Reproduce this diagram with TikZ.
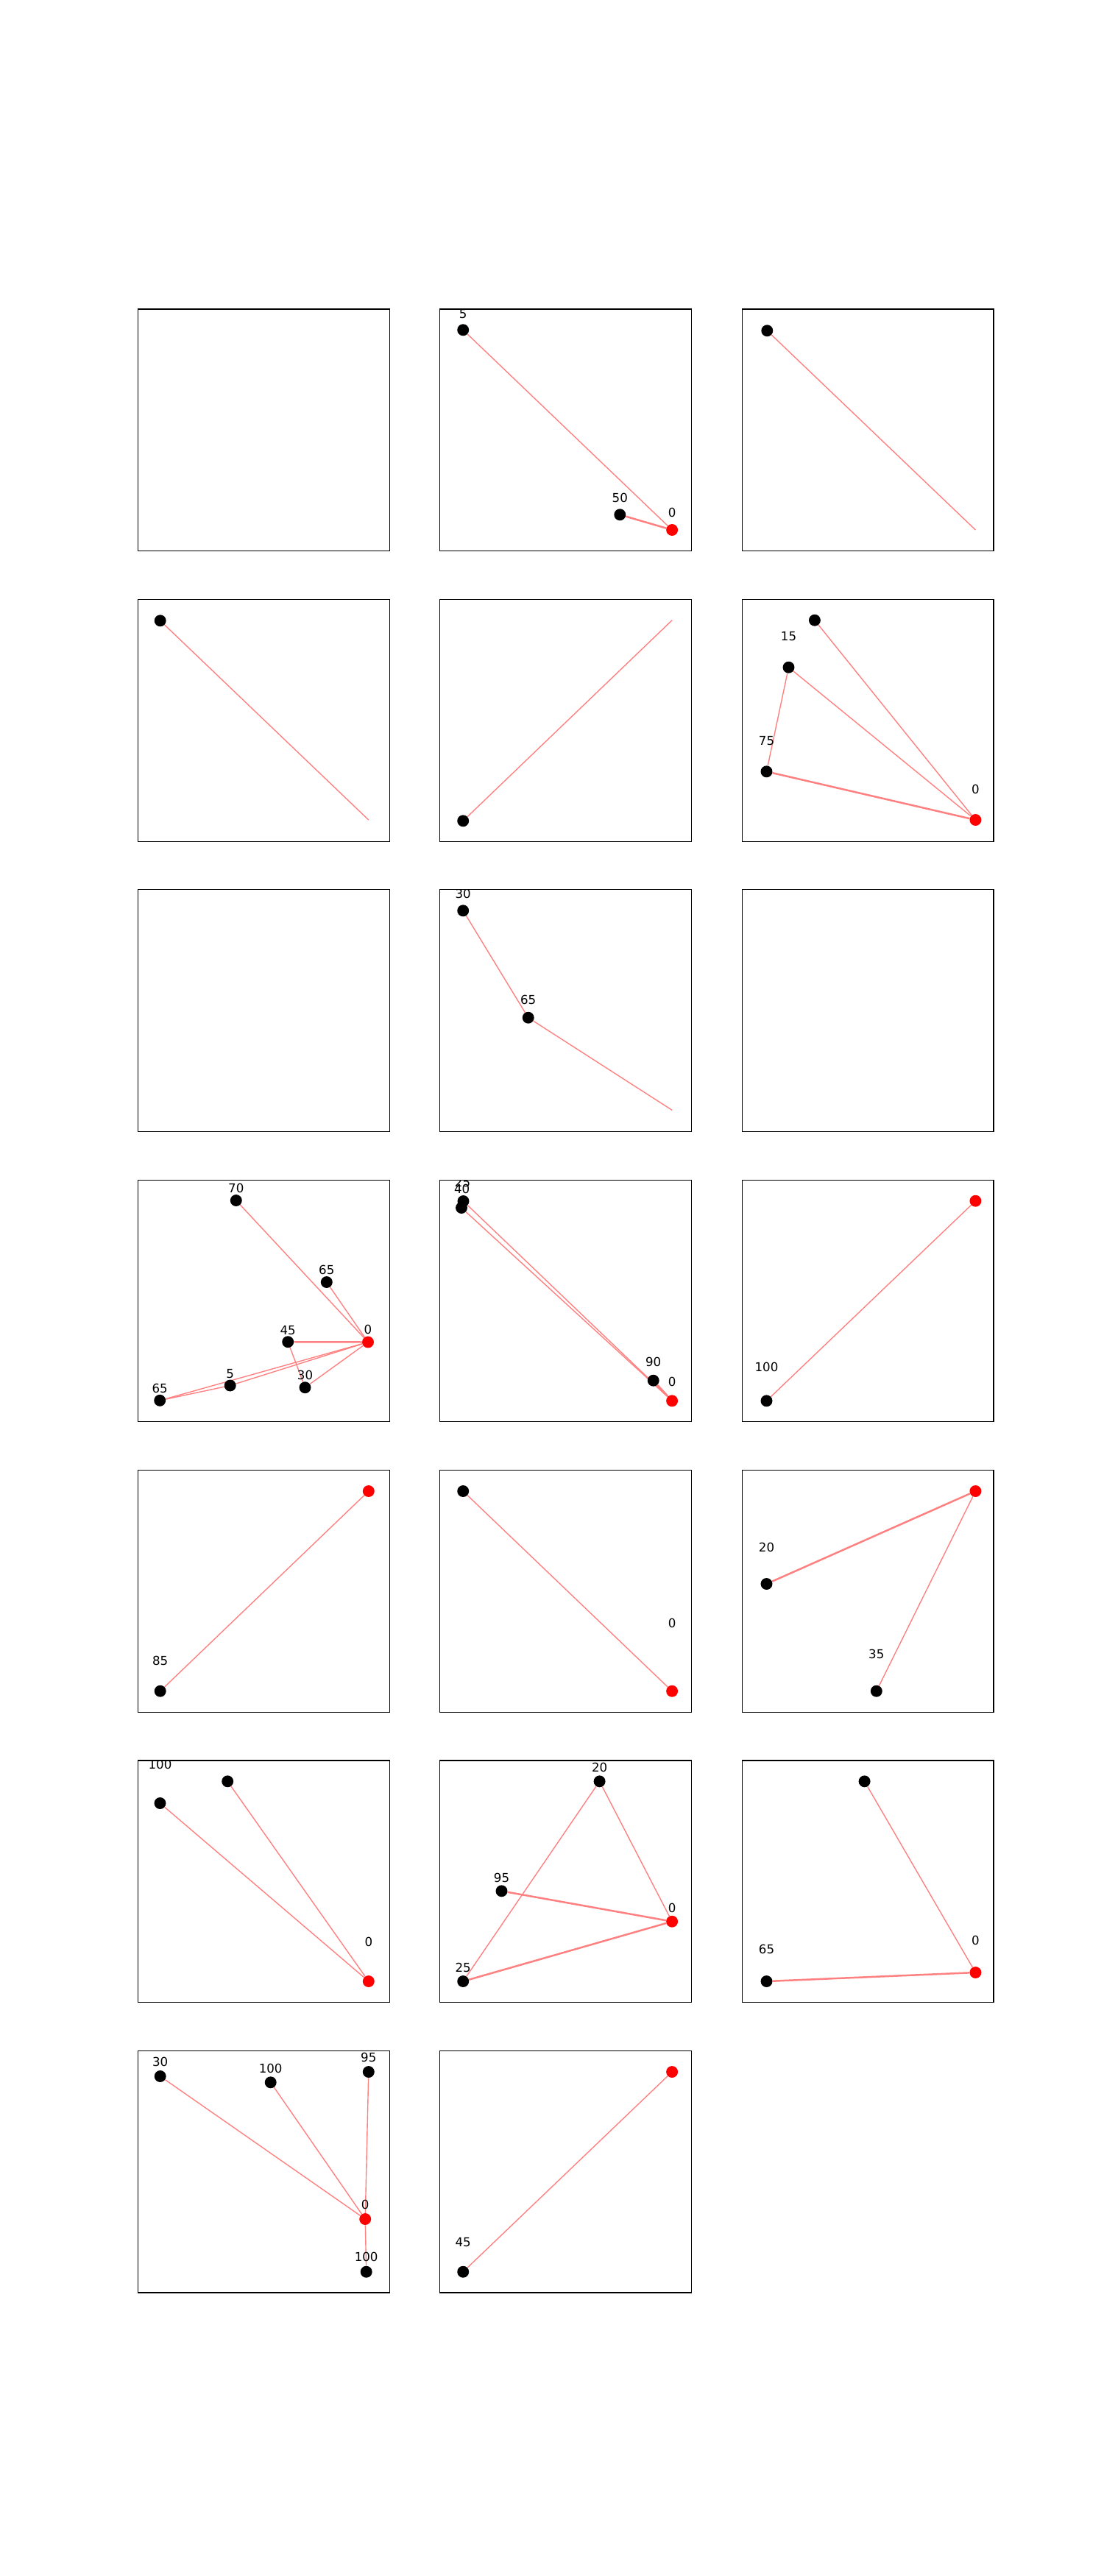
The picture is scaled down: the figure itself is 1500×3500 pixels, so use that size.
\documentclass[tikz,border=0pt]{standalone}
\usepackage{fontspec}
\setmainfont{DejaVu Sans}
\usepackage{xcolor}
\usepackage{tikz}
\usetikzlibrary{backgrounds}

\begin{document}
\begin{tikzpicture}[
  x=0.7227pt, y=-0.7227pt,
  frame/.style={draw=black, line width=0.8pt},
  vtx/.style={circle, fill=black, inner sep=0pt, minimum size=11.5pt},
  root/.style={vtx, fill=red},
  lbl/.style={inner sep=0pt, font=\fontsize{12}{14}\selectfont},
  edge/.style={draw=red!50, line width=1pt},
  heavy/.style={edge, line width=1.8pt}
]
\useasboundingbox (0,0) rectangle (1500,3500);

% axes frames, 7 rows x 3 columns (last row has two)
\foreach \r in {0,...,6} {
  \foreach \c in {0,1,2} {
    \ifnum\numexpr\r*3+\c\relax<20
      \draw[frame] ({187.5+\c*410.3},{420+\r*394.39}) rectangle ++(341.9,328.66);
    \fi
  }
}

% row 1
\node[vtx] (aFive) at (629.2,448.3) {};
\node[vtx] (aFifty) at (842.3,699.3) {};
\node[root] (aRoot) at (913.1,720) {};
\begin{scope}
  \clip (597.8,420) rectangle ++(341.9,328.66);
  \node[lbl] (aFiveL) at (629.2,427) {5};
\end{scope}
\node[lbl] (aFiftyL) at (842.3,676.7) {50};
\node[lbl] (aRootL) at (913.1,696) {0};
\node[vtx] (bTop) at (1042.3,449.3) {};
\coordinate (bEnd) at (1325.4,720);

% row 2
\node[vtx] (cTop) at (217.7,843.3) {};
\coordinate (cEnd) at (500.8,1114);
\node[vtx] (dLow) at (629.2,1115.3) {};
\coordinate (dEnd) at (913.1,842.7);
\node[vtx] (eTop) at (1106.9,842.7) {};
\node[vtx] (eFifteen) at (1071.5,906.7) {};
\node[vtx] (eSeventyFive) at (1041.5,1048.3) {};
\node[root] (eRoot) at (1325.4,1114) {};
\node[lbl] (eFifteenL) at (1071.5,865) {15};
\node[lbl] (eSeventyFiveL) at (1041.5,1007) {75};
\node[lbl] (eRootL) at (1325.4,1072.7) {0};

% row 3
\node[vtx] (fThirty) at (629.2,1237.3) {};
\node[vtx] (fSixtyFive) at (717.7,1382.7) {};
\coordinate (fEnd) at (913.1,1508.3);
\begin{scope}
  \clip (597.8,1208.8) rectangle ++(341.9,328.66);
  \node[lbl] (fThirtyL) at (629.2,1214) {30};
\end{scope}
\node[lbl] (fSixtyFiveL) at (717.7,1358.7) {65};

% row 4
\node[vtx] (gSeventy) at (320.8,1631) {};
\node[vtx] (gSixtyFiveA) at (443.8,1742) {};
\node[vtx] (gFortyFive) at (391.2,1823.2) {};
\node[root] (gRoot) at (500,1823.5) {};
\node[vtx] (gFive) at (312.7,1882.5) {};
\node[vtx] (gThirty) at (414.5,1885.2) {};
\node[vtx] (gSixtyFiveB) at (217.2,1902.8) {};
\node[lbl] (gSeventyL) at (320.8,1614.3) {70};
\node[lbl] (gSixtyFiveAL) at (443.8,1725) {65};
\node[lbl] (gFortyFiveL) at (391.2,1807.3) {45};
\node[lbl] (gRootL) at (500,1806.7) {0};
\node[lbl] (gFiveL) at (312.7,1866.7) {5};
\node[lbl] (gThirtyL) at (414.5,1868.7) {30};
\node[lbl] (gSixtyFiveBL) at (217.2,1886.7) {65};

\node[vtx] (hTopA) at (629.5,1632) {};
\node[vtx] (hTopB) at (627,1641) {};
\node[vtx] (hNinety) at (887.7,1875.7) {};
\node[root] (hRoot) at (913.1,1903.3) {};
\begin{scope}
  \clip (597.8,1603.2) rectangle ++(341.9,328.66);
  \node[lbl] (hTopAL) at (628.5,1606) {25};
  \node[lbl] (hTopBL) at (627.7,1615) {40};
\end{scope}
\node[lbl] (hNinetyL) at (887.7,1850.7) {90};
\node[lbl] (hRootL) at (913.1,1877.7) {0};

\node[root] (iRoot) at (1325.4,1631.7) {};
\node[vtx] (iHundred) at (1041.5,1903.3) {};
\node[lbl] (iHundredL) at (1041.5,1857.7) {100};

% row 5
\node[root] (jRoot) at (500.8,2026) {};
\node[vtx] (jEightyFive) at (217.7,2297.7) {};
\node[lbl] (jEightyFiveL) at (217.7,2256) {85};

\node[vtx] (kTop) at (629.2,2026) {};
\node[root] (kRoot) at (913.1,2297.7) {};
\node[lbl] (kRootL) at (913.1,2205) {0};

\node[root] (lRoot) at (1325.4,2026) {};
\node[vtx] (lTwenty) at (1041.5,2152) {};
\node[vtx] (lThirtyFive) at (1190.8,2297.7) {};
\node[lbl] (lTwentyL) at (1041.5,2102.7) {20};
\node[lbl] (lThirtyFiveL) at (1190.8,2247.7) {35};

% row 6
\node[vtx] (mTop) at (309.2,2420.3) {};
\node[vtx] (mHundred) at (217.5,2450) {};
\node[root] (mRoot) at (500.8,2692) {};
\begin{scope}
  \clip (187.5,2392) rectangle ++(341.9,328.66);
  \node[lbl] (mHundredL) at (217.5,2397) {100};
\end{scope}
\node[lbl] (mRootL) at (500.8,2638.3) {0};

\node[vtx] (nTwenty) at (814.6,2420.3) {};
\node[vtx] (nNinetyFive) at (681.5,2569.3) {};
\node[root] (nRoot) at (913.1,2610.7) {};
\node[vtx] (nTwentyFive) at (629.2,2692) {};
\node[lbl] (nTwentyL) at (814.6,2401.7) {20};
\node[lbl] (nNinetyFiveL) at (681.5,2551) {95};
\node[lbl] (nRootL) at (913.1,2592.3) {0};
\node[lbl] (nTwentyFiveL) at (629.2,2673.3) {25};

\node[vtx] (oTop) at (1174.6,2420.3) {};
\node[root] (oRoot) at (1325.4,2680) {};
\node[vtx] (oSixtyFive) at (1041.5,2692) {};
\node[lbl] (oRootL) at (1325.4,2636.7) {0};
\node[lbl] (oSixtyFiveL) at (1041.5,2648.7) {65};

% row 7
\node[vtx] (pThirty) at (217.7,2821) {};
\node[vtx] (pHundredA) at (367.7,2829.3) {};
\node[vtx] (pNinetyFive) at (500.8,2815) {};
\node[root] (pRoot) at (496.2,3015) {};
\node[vtx] (pHundredB) at (497.7,3086.7) {};
\node[lbl] (pThirtyL) at (217.7,2801.7) {30};
\node[lbl] (pHundredAL) at (367.7,2810) {100};
\node[lbl] (pNinetyFiveL) at (500.8,2795.7) {95};
\node[lbl] (pRootL) at (496.2,2995.7) {0};
\node[lbl] (pHundredBL) at (497.7,3066.7) {100};

\node[root] (qRoot) at (913.1,2815) {};
\node[vtx] (qFortyFive) at (629.2,3086.7) {};
\node[lbl] (qFortyFiveL) at (629.2,3047) {45};

\begin{scope}[on background layer]
\draw[edge] (aFive) -- (aRoot);
\draw[heavy] (aFifty) -- (aRoot);
\draw[edge] (bTop) -- (bEnd);
\draw[edge] (cTop) -- (cEnd);
\draw[edge] (dLow) -- (dEnd);
\draw[edge] (eTop) -- (eRoot);
\draw[edge] (eFifteen) -- (eRoot);
\draw[edge] (eFifteen) -- (eSeventyFive);
\draw[heavy] (eSeventyFive) -- (eRoot);
\draw[edge] (fThirty) -- (fSixtyFive);
\draw[edge] (fSixtyFive) -- (fEnd);
\draw[edge] (gSeventy) -- (gRoot);
\draw[edge] (gSixtyFiveA) -- (gRoot);
\draw[heavy] (gFortyFive) -- (gRoot);
\draw[edge] (gFortyFive) -- (gThirty);
\draw[edge] (gThirty) -- (gRoot);
\draw[edge] (gSixtyFiveB) -- (gRoot);
\draw[edge] (gSixtyFiveB) -- (gFive);
\draw[edge] (gFive) -- (gRoot);
\draw[edge] (hTopA) -- (hRoot);
\draw[edge] (hTopB) -- (hRoot);
\draw[heavy] (hNinety) -- (hRoot);
\draw[edge] (iHundred) -- (iRoot);
\draw[edge] (jEightyFive) -- (jRoot);
\draw[edge] (kTop) -- (kRoot);
\draw[heavy] (lTwenty) -- (lRoot);
\draw[edge] (lThirtyFive) -- (lRoot);
\draw[edge] (mTop) -- (mRoot);
\draw[edge] (mHundred) -- (mRoot);
\draw[edge] (nTwenty) -- (nTwentyFive);
\draw[edge] (nTwenty) -- (nRoot);
\draw[heavy] (nNinetyFive) -- (nRoot);
\draw[heavy] (nTwentyFive) -- (nRoot);
\draw[edge] (oTop) -- (oRoot);
\draw[heavy] (oSixtyFive) -- (oRoot);
\draw[edge] (pThirty) -- (pRoot);
\draw[edge] (pHundredA) -- (pRoot);
\draw[edge] (pNinetyFive) -- (pRoot);
\draw[edge] (pRoot) -- (pHundredB);
\draw[edge] (qFortyFive) -- (qRoot);
\end{scope}
\end{tikzpicture}
\end{document}
